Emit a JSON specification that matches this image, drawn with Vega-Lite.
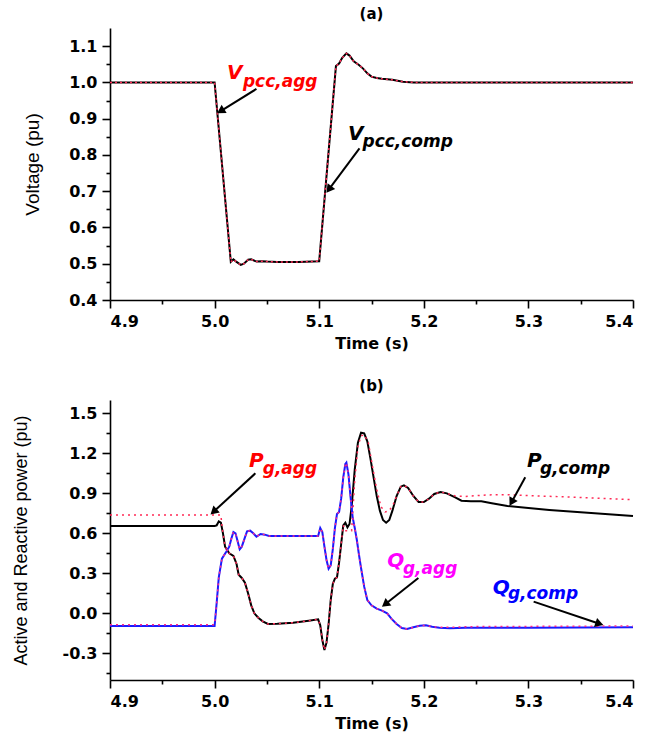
{
  "$schema": "https://vega.github.io/schema/vega-lite/v6.json",
  "padding": {"left": 12, "top": 7, "right": 5, "bottom": 5},
  "spacing": 28,
  "resolve": {"scale": {"color": "independent"}},
  "config": {
    "view": {"stroke": null},
    "axis": {"domainColor": "#000", "domainWidth": 1.6, "tickColor": "#000", "tickWidth": 1.6, "labelColor": "#000", "titleColor": "#000", "grid": false, "labelFont": "DejaVu Sans", "labelFontWeight": "bold", "labelFontSize": 16, "titleFont": "Liberation Sans", "titleFontSize": 19, "titleFontWeight": "normal"},
    "title": {"font": "DejaVu Sans", "fontSize": 15, "fontWeight": "bold", "color": "#000", "offset": 6}
  },
  "datasets": {
    "va": [
      {"t": 4.9, "v": 1.0, "s": "comp"}, {"t": 5.0, "v": 1.0, "s": "comp"}, {"t": 5.0155, "v": 0.505, "s": "comp"}, {"t": 5.018, "v": 0.512, "s": "comp"}, {"t": 5.021, "v": 0.505, "s": "comp"}, {"t": 5.025, "v": 0.497, "s": "comp"}, {"t": 5.028, "v": 0.5, "s": "comp"}, {"t": 5.032, "v": 0.511, "s": "comp"}, {"t": 5.035, "v": 0.512, "s": "comp"}, {"t": 5.04, "v": 0.506, "s": "comp"}, {"t": 5.045, "v": 0.507, "s": "comp"}, {"t": 5.05, "v": 0.506, "s": "comp"}, {"t": 5.06, "v": 0.505, "s": "comp"}, {"t": 5.08, "v": 0.505, "s": "comp"}, {"t": 5.1, "v": 0.507, "s": "comp"}, {"t": 5.116, "v": 1.045, "s": "comp"}, {"t": 5.119, "v": 1.052, "s": "comp"}, {"t": 5.122, "v": 1.068, "s": "comp"}, {"t": 5.126, "v": 1.08, "s": "comp"}, {"t": 5.129, "v": 1.074, "s": "comp"}, {"t": 5.133, "v": 1.058, "s": "comp"}, {"t": 5.138, "v": 1.048, "s": "comp"}, {"t": 5.142, "v": 1.038, "s": "comp"}, {"t": 5.146, "v": 1.025, "s": "comp"}, {"t": 5.15, "v": 1.016, "s": "comp"}, {"t": 5.155, "v": 1.012, "s": "comp"}, {"t": 5.16, "v": 1.01, "s": "comp"}, {"t": 5.17, "v": 1.007, "s": "comp"}, {"t": 5.18, "v": 1.002, "s": "comp"}, {"t": 5.19, "v": 1.0, "s": "comp"}, {"t": 5.4, "v": 1.0, "s": "comp"},
      {"t": 4.9, "v": 1.0, "s": "agg"}, {"t": 5.0, "v": 1.0, "s": "agg"}, {"t": 5.0155, "v": 0.505, "s": "agg"}, {"t": 5.018, "v": 0.512, "s": "agg"}, {"t": 5.021, "v": 0.505, "s": "agg"}, {"t": 5.025, "v": 0.497, "s": "agg"}, {"t": 5.028, "v": 0.5, "s": "agg"}, {"t": 5.032, "v": 0.511, "s": "agg"}, {"t": 5.035, "v": 0.512, "s": "agg"}, {"t": 5.04, "v": 0.506, "s": "agg"}, {"t": 5.045, "v": 0.507, "s": "agg"}, {"t": 5.05, "v": 0.506, "s": "agg"}, {"t": 5.06, "v": 0.505, "s": "agg"}, {"t": 5.08, "v": 0.505, "s": "agg"}, {"t": 5.1, "v": 0.507, "s": "agg"}, {"t": 5.116, "v": 1.045, "s": "agg"}, {"t": 5.119, "v": 1.052, "s": "agg"}, {"t": 5.122, "v": 1.068, "s": "agg"}, {"t": 5.126, "v": 1.08, "s": "agg"}, {"t": 5.129, "v": 1.074, "s": "agg"}, {"t": 5.133, "v": 1.058, "s": "agg"}, {"t": 5.138, "v": 1.048, "s": "agg"}, {"t": 5.142, "v": 1.038, "s": "agg"}, {"t": 5.146, "v": 1.025, "s": "agg"}, {"t": 5.15, "v": 1.016, "s": "agg"}, {"t": 5.155, "v": 1.012, "s": "agg"}, {"t": 5.16, "v": 1.01, "s": "agg"}, {"t": 5.17, "v": 1.007, "s": "agg"}, {"t": 5.18, "v": 1.002, "s": "agg"}, {"t": 5.19, "v": 1.0, "s": "agg"}, {"t": 5.4, "v": 1.0, "s": "agg"}
    ],
    "pb": [
      {"t": 4.9, "p": 0.655, "s": "Pcomp"}, {"t": 5.0, "p": 0.655, "s": "Pcomp"}, {"t": 5.002, "p": 0.66, "s": "Pcomp"}, {"t": 5.004, "p": 0.69, "s": "Pcomp"}, {"t": 5.006, "p": 0.68, "s": "Pcomp"}, {"t": 5.008, "p": 0.6, "s": "Pcomp"}, {"t": 5.01, "p": 0.5, "s": "Pcomp"}, {"t": 5.014, "p": 0.45, "s": "Pcomp"}, {"t": 5.018, "p": 0.43, "s": "Pcomp"}, {"t": 5.021, "p": 0.37, "s": "Pcomp"}, {"t": 5.023, "p": 0.29, "s": "Pcomp"}, {"t": 5.026, "p": 0.265, "s": "Pcomp"}, {"t": 5.029, "p": 0.23, "s": "Pcomp"}, {"t": 5.032, "p": 0.15, "s": "Pcomp"}, {"t": 5.035, "p": 0.06, "s": "Pcomp"}, {"t": 5.038, "p": 0.0, "s": "Pcomp"}, {"t": 5.042, "p": -0.035, "s": "Pcomp"}, {"t": 5.046, "p": -0.06, "s": "Pcomp"}, {"t": 5.051, "p": -0.08, "s": "Pcomp"}, {"t": 5.06, "p": -0.078, "s": "Pcomp"}, {"t": 5.075, "p": -0.07, "s": "Pcomp"}, {"t": 5.09, "p": -0.055, "s": "Pcomp"}, {"t": 5.099, "p": -0.045, "s": "Pcomp"}, {"t": 5.101, "p": -0.09, "s": "Pcomp"}, {"t": 5.103, "p": -0.2, "s": "Pcomp"}, {"t": 5.105, "p": -0.275, "s": "Pcomp"}, {"t": 5.107, "p": -0.22, "s": "Pcomp"}, {"t": 5.109, "p": -0.08, "s": "Pcomp"}, {"t": 5.111, "p": 0.1, "s": "Pcomp"}, {"t": 5.113, "p": 0.22, "s": "Pcomp"}, {"t": 5.115, "p": 0.26, "s": "Pcomp"}, {"t": 5.117, "p": 0.27, "s": "Pcomp"}, {"t": 5.119, "p": 0.38, "s": "Pcomp"}, {"t": 5.121, "p": 0.52, "s": "Pcomp"}, {"t": 5.123, "p": 0.66, "s": "Pcomp"}, {"t": 5.125, "p": 0.68, "s": "Pcomp"}, {"t": 5.127, "p": 0.645, "s": "Pcomp"}, {"t": 5.129, "p": 0.67, "s": "Pcomp"}, {"t": 5.131, "p": 0.8, "s": "Pcomp"}, {"t": 5.134, "p": 1.08, "s": "Pcomp"}, {"t": 5.137, "p": 1.28, "s": "Pcomp"}, {"t": 5.14, "p": 1.355, "s": "Pcomp"}, {"t": 5.143, "p": 1.35, "s": "Pcomp"}, {"t": 5.146, "p": 1.29, "s": "Pcomp"}, {"t": 5.149, "p": 1.16, "s": "Pcomp"}, {"t": 5.152, "p": 1.02, "s": "Pcomp"}, {"t": 5.155, "p": 0.88, "s": "Pcomp"}, {"t": 5.158, "p": 0.77, "s": "Pcomp"}, {"t": 5.161, "p": 0.7, "s": "Pcomp"}, {"t": 5.164, "p": 0.68, "s": "Pcomp"}, {"t": 5.167, "p": 0.7, "s": "Pcomp"}, {"t": 5.17, "p": 0.77, "s": "Pcomp"}, {"t": 5.174, "p": 0.88, "s": "Pcomp"}, {"t": 5.178, "p": 0.95, "s": "Pcomp"}, {"t": 5.181, "p": 0.96, "s": "Pcomp"}, {"t": 5.185, "p": 0.94, "s": "Pcomp"}, {"t": 5.19, "p": 0.88, "s": "Pcomp"}, {"t": 5.195, "p": 0.835, "s": "Pcomp"}, {"t": 5.2, "p": 0.835, "s": "Pcomp"}, {"t": 5.205, "p": 0.86, "s": "Pcomp"}, {"t": 5.21, "p": 0.895, "s": "Pcomp"}, {"t": 5.216, "p": 0.91, "s": "Pcomp"}, {"t": 5.222, "p": 0.9, "s": "Pcomp"}, {"t": 5.23, "p": 0.87, "s": "Pcomp"}, {"t": 5.236, "p": 0.845, "s": "Pcomp"}, {"t": 5.245, "p": 0.84, "s": "Pcomp"}, {"t": 5.255, "p": 0.84, "s": "Pcomp"}, {"t": 5.265, "p": 0.825, "s": "Pcomp"}, {"t": 5.28, "p": 0.805, "s": "Pcomp"}, {"t": 5.3, "p": 0.79, "s": "Pcomp"}, {"t": 5.32, "p": 0.775, "s": "Pcomp"}, {"t": 5.34, "p": 0.763, "s": "Pcomp"}, {"t": 5.36, "p": 0.752, "s": "Pcomp"}, {"t": 5.38, "p": 0.742, "s": "Pcomp"}, {"t": 5.4, "p": 0.73, "s": "Pcomp"},
      {"t": 4.9, "p": 0.738, "s": "Pagg"}, {"t": 5.006, "p": 0.738, "s": "Pagg"}, {"t": 5.007, "p": 0.66, "s": "Pagg"}, {"t": 5.008, "p": 0.6, "s": "Pagg"}, {"t": 5.01, "p": 0.5, "s": "Pagg"}, {"t": 5.014, "p": 0.45, "s": "Pagg"}, {"t": 5.018, "p": 0.43, "s": "Pagg"}, {"t": 5.021, "p": 0.37, "s": "Pagg"}, {"t": 5.023, "p": 0.29, "s": "Pagg"}, {"t": 5.026, "p": 0.265, "s": "Pagg"}, {"t": 5.029, "p": 0.23, "s": "Pagg"}, {"t": 5.032, "p": 0.15, "s": "Pagg"}, {"t": 5.035, "p": 0.06, "s": "Pagg"}, {"t": 5.038, "p": 0.0, "s": "Pagg"}, {"t": 5.042, "p": -0.035, "s": "Pagg"}, {"t": 5.046, "p": -0.06, "s": "Pagg"}, {"t": 5.051, "p": -0.08, "s": "Pagg"}, {"t": 5.06, "p": -0.078, "s": "Pagg"}, {"t": 5.075, "p": -0.07, "s": "Pagg"}, {"t": 5.09, "p": -0.055, "s": "Pagg"}, {"t": 5.099, "p": -0.045, "s": "Pagg"}, {"t": 5.101, "p": -0.09, "s": "Pagg"}, {"t": 5.103, "p": -0.2, "s": "Pagg"}, {"t": 5.105, "p": -0.275, "s": "Pagg"}, {"t": 5.107, "p": -0.22, "s": "Pagg"}, {"t": 5.109, "p": -0.08, "s": "Pagg"}, {"t": 5.111, "p": 0.1, "s": "Pagg"}, {"t": 5.113, "p": 0.22, "s": "Pagg"}, {"t": 5.115, "p": 0.26, "s": "Pagg"}, {"t": 5.117, "p": 0.27, "s": "Pagg"}, {"t": 5.119, "p": 0.38, "s": "Pagg"}, {"t": 5.121, "p": 0.52, "s": "Pagg"}, {"t": 5.123, "p": 0.66, "s": "Pagg"}, {"t": 5.1245, "p": 0.62, "s": "Pagg"}, {"t": 5.131, "p": 0.62, "s": "Pagg"}, {"t": 5.134, "p": 1.0, "s": "Pagg"}, {"t": 5.137, "p": 1.25, "s": "Pagg"}, {"t": 5.14, "p": 1.33, "s": "Pagg"}, {"t": 5.143, "p": 1.34, "s": "Pagg"}, {"t": 5.147, "p": 1.28, "s": "Pagg"}, {"t": 5.151, "p": 1.1, "s": "Pagg"}, {"t": 5.155, "p": 0.93, "s": "Pagg"}, {"t": 5.159, "p": 0.8, "s": "Pagg"}, {"t": 5.163, "p": 0.76, "s": "Pagg"}, {"t": 5.167, "p": 0.77, "s": "Pagg"}, {"t": 5.171, "p": 0.82, "s": "Pagg"}, {"t": 5.174, "p": 0.88, "s": "Pagg"}, {"t": 5.178, "p": 0.95, "s": "Pagg"}, {"t": 5.181, "p": 0.96, "s": "Pagg"}, {"t": 5.185, "p": 0.94, "s": "Pagg"}, {"t": 5.19, "p": 0.88, "s": "Pagg"}, {"t": 5.195, "p": 0.835, "s": "Pagg"}, {"t": 5.2, "p": 0.835, "s": "Pagg"}, {"t": 5.205, "p": 0.86, "s": "Pagg"}, {"t": 5.21, "p": 0.895, "s": "Pagg"}, {"t": 5.216, "p": 0.91, "s": "Pagg"}, {"t": 5.222, "p": 0.9, "s": "Pagg"}, {"t": 5.23, "p": 0.88, "s": "Pagg"}, {"t": 5.24, "p": 0.877, "s": "Pagg"}, {"t": 5.26, "p": 0.888, "s": "Pagg"}, {"t": 5.28, "p": 0.89, "s": "Pagg"}, {"t": 5.3, "p": 0.883, "s": "Pagg"}, {"t": 5.34, "p": 0.872, "s": "Pagg"}, {"t": 5.37, "p": 0.862, "s": "Pagg"}, {"t": 5.4, "p": 0.852, "s": "Pagg"},
      {"t": 4.9, "p": -0.095, "s": "Qcomp"}, {"t": 5.0, "p": -0.095, "s": "Qcomp"}, {"t": 5.002, "p": 0.08, "s": "Qcomp"}, {"t": 5.004, "p": 0.27, "s": "Qcomp"}, {"t": 5.007, "p": 0.41, "s": "Qcomp"}, {"t": 5.011, "p": 0.46, "s": "Qcomp"}, {"t": 5.014, "p": 0.5, "s": "Qcomp"}, {"t": 5.016, "p": 0.56, "s": "Qcomp"}, {"t": 5.018, "p": 0.61, "s": "Qcomp"}, {"t": 5.02, "p": 0.6, "s": "Qcomp"}, {"t": 5.022, "p": 0.54, "s": "Qcomp"}, {"t": 5.024, "p": 0.48, "s": "Qcomp"}, {"t": 5.026, "p": 0.5, "s": "Qcomp"}, {"t": 5.029, "p": 0.57, "s": "Qcomp"}, {"t": 5.031, "p": 0.615, "s": "Qcomp"}, {"t": 5.034, "p": 0.62, "s": "Qcomp"}, {"t": 5.037, "p": 0.6, "s": "Qcomp"}, {"t": 5.04, "p": 0.575, "s": "Qcomp"}, {"t": 5.044, "p": 0.595, "s": "Qcomp"}, {"t": 5.048, "p": 0.59, "s": "Qcomp"}, {"t": 5.052, "p": 0.58, "s": "Qcomp"}, {"t": 5.06, "p": 0.58, "s": "Qcomp"}, {"t": 5.099, "p": 0.58, "s": "Qcomp"}, {"t": 5.101, "p": 0.64, "s": "Qcomp"}, {"t": 5.103, "p": 0.61, "s": "Qcomp"}, {"t": 5.105, "p": 0.5, "s": "Qcomp"}, {"t": 5.107, "p": 0.4, "s": "Qcomp"}, {"t": 5.109, "p": 0.335, "s": "Qcomp"}, {"t": 5.111, "p": 0.36, "s": "Qcomp"}, {"t": 5.113, "p": 0.48, "s": "Qcomp"}, {"t": 5.115, "p": 0.64, "s": "Qcomp"}, {"t": 5.117, "p": 0.745, "s": "Qcomp"}, {"t": 5.119, "p": 0.76, "s": "Qcomp"}, {"t": 5.121, "p": 0.86, "s": "Qcomp"}, {"t": 5.123, "p": 1.02, "s": "Qcomp"}, {"t": 5.125, "p": 1.12, "s": "Qcomp"}, {"t": 5.126, "p": 1.13, "s": "Qcomp"}, {"t": 5.128, "p": 1.04, "s": "Qcomp"}, {"t": 5.13, "p": 0.87, "s": "Qcomp"}, {"t": 5.132, "p": 0.72, "s": "Qcomp"}, {"t": 5.134, "p": 0.64, "s": "Qcomp"}, {"t": 5.136, "p": 0.55, "s": "Qcomp"}, {"t": 5.138, "p": 0.44, "s": "Qcomp"}, {"t": 5.14, "p": 0.34, "s": "Qcomp"}, {"t": 5.143, "p": 0.2, "s": "Qcomp"}, {"t": 5.146, "p": 0.1, "s": "Qcomp"}, {"t": 5.15, "p": 0.06, "s": "Qcomp"}, {"t": 5.155, "p": 0.035, "s": "Qcomp"}, {"t": 5.16, "p": 0.02, "s": "Qcomp"}, {"t": 5.165, "p": 0.0, "s": "Qcomp"}, {"t": 5.169, "p": -0.04, "s": "Qcomp"}, {"t": 5.174, "p": -0.08, "s": "Qcomp"}, {"t": 5.179, "p": -0.11, "s": "Qcomp"}, {"t": 5.184, "p": -0.118, "s": "Qcomp"}, {"t": 5.19, "p": -0.105, "s": "Qcomp"}, {"t": 5.196, "p": -0.093, "s": "Qcomp"}, {"t": 5.202, "p": -0.09, "s": "Qcomp"}, {"t": 5.208, "p": -0.1, "s": "Qcomp"}, {"t": 5.215, "p": -0.108, "s": "Qcomp"}, {"t": 5.225, "p": -0.112, "s": "Qcomp"}, {"t": 5.24, "p": -0.108, "s": "Qcomp"}, {"t": 5.3, "p": -0.108, "s": "Qcomp"}, {"t": 5.4, "p": -0.105, "s": "Qcomp"},
      {"t": 4.9, "p": -0.085, "s": "Qagg"}, {"t": 5.0, "p": -0.085, "s": "Qagg"}, {"t": 5.002, "p": 0.08, "s": "Qagg"}, {"t": 5.004, "p": 0.27, "s": "Qagg"}, {"t": 5.007, "p": 0.41, "s": "Qagg"}, {"t": 5.011, "p": 0.46, "s": "Qagg"}, {"t": 5.014, "p": 0.5, "s": "Qagg"}, {"t": 5.016, "p": 0.56, "s": "Qagg"}, {"t": 5.018, "p": 0.61, "s": "Qagg"}, {"t": 5.02, "p": 0.6, "s": "Qagg"}, {"t": 5.022, "p": 0.54, "s": "Qagg"}, {"t": 5.024, "p": 0.48, "s": "Qagg"}, {"t": 5.026, "p": 0.5, "s": "Qagg"}, {"t": 5.029, "p": 0.57, "s": "Qagg"}, {"t": 5.031, "p": 0.615, "s": "Qagg"}, {"t": 5.034, "p": 0.62, "s": "Qagg"}, {"t": 5.037, "p": 0.6, "s": "Qagg"}, {"t": 5.04, "p": 0.575, "s": "Qagg"}, {"t": 5.044, "p": 0.595, "s": "Qagg"}, {"t": 5.048, "p": 0.59, "s": "Qagg"}, {"t": 5.052, "p": 0.58, "s": "Qagg"}, {"t": 5.06, "p": 0.58, "s": "Qagg"}, {"t": 5.099, "p": 0.58, "s": "Qagg"}, {"t": 5.101, "p": 0.64, "s": "Qagg"}, {"t": 5.103, "p": 0.61, "s": "Qagg"}, {"t": 5.105, "p": 0.5, "s": "Qagg"}, {"t": 5.107, "p": 0.4, "s": "Qagg"}, {"t": 5.109, "p": 0.335, "s": "Qagg"}, {"t": 5.111, "p": 0.36, "s": "Qagg"}, {"t": 5.113, "p": 0.48, "s": "Qagg"}, {"t": 5.115, "p": 0.64, "s": "Qagg"}, {"t": 5.117, "p": 0.745, "s": "Qagg"}, {"t": 5.119, "p": 0.76, "s": "Qagg"}, {"t": 5.121, "p": 0.86, "s": "Qagg"}, {"t": 5.123, "p": 1.02, "s": "Qagg"}, {"t": 5.125, "p": 1.12, "s": "Qagg"}, {"t": 5.126, "p": 1.13, "s": "Qagg"}, {"t": 5.128, "p": 1.04, "s": "Qagg"}, {"t": 5.13, "p": 0.87, "s": "Qagg"}, {"t": 5.132, "p": 0.72, "s": "Qagg"}, {"t": 5.134, "p": 0.64, "s": "Qagg"}, {"t": 5.136, "p": 0.55, "s": "Qagg"}, {"t": 5.138, "p": 0.44, "s": "Qagg"}, {"t": 5.14, "p": 0.34, "s": "Qagg"}, {"t": 5.143, "p": 0.2, "s": "Qagg"}, {"t": 5.146, "p": 0.1, "s": "Qagg"}, {"t": 5.15, "p": 0.06, "s": "Qagg"}, {"t": 5.155, "p": 0.035, "s": "Qagg"}, {"t": 5.16, "p": 0.02, "s": "Qagg"}, {"t": 5.165, "p": 0.0, "s": "Qagg"}, {"t": 5.169, "p": -0.04, "s": "Qagg"}, {"t": 5.174, "p": -0.08, "s": "Qagg"}, {"t": 5.179, "p": -0.11, "s": "Qagg"}, {"t": 5.184, "p": -0.118, "s": "Qagg"}, {"t": 5.19, "p": -0.105, "s": "Qagg"}, {"t": 5.196, "p": -0.093, "s": "Qagg"}, {"t": 5.202, "p": -0.09, "s": "Qagg"}, {"t": 5.208, "p": -0.1, "s": "Qagg"}, {"t": 5.215, "p": -0.105, "s": "Qagg"}, {"t": 5.225, "p": -0.105, "s": "Qagg"}, {"t": 5.24, "p": -0.1, "s": "Qagg"}, {"t": 5.3, "p": -0.098, "s": "Qagg"}, {"t": 5.4, "p": -0.095, "s": "Qagg"}
    ],
    "labels_a": [
      {"t": 5.0118, "y": 1.01, "text": "V", "role": "main", "s": "agg"},
      {"t": 5.0271, "y": 0.987, "text": "pcc,agg", "role": "sub", "s": "agg"},
      {"t": 5.1275, "y": 0.84, "text": "V", "role": "main", "s": "comp"},
      {"t": 5.1414, "y": 0.822, "text": "pcc,comp", "role": "sub", "s": "comp"}
    ],
    "labels_b": [
      {"t": 5.033, "y": 1.095, "text": "P", "role": "main", "s": "Pagg"},
      {"t": 5.046, "y": 1.045, "text": "g,agg", "role": "sub", "s": "Pagg"},
      {"t": 5.2986, "y": 1.095, "text": "P", "role": "main", "s": "Pcomp"},
      {"t": 5.311, "y": 1.045, "text": "g,comp", "role": "sub", "s": "Pcomp"},
      {"t": 5.165, "y": 0.345, "text": "Q", "role": "main", "s": "Qagg"},
      {"t": 5.18, "y": 0.295, "text": "g,agg", "role": "sub", "s": "Qagg"},
      {"t": 5.2658, "y": 0.145, "text": "Q", "role": "main", "s": "Qcomp"},
      {"t": 5.2804, "y": 0.107, "text": "g,comp", "role": "sub", "s": "Qcomp"}
    ],
    "arrows_a": [
      {"id": "a1", "x": 5.04, "y": 0.982, "hx": 5.0058, "hy": 0.921},
      {"id": "a2", "x": 5.1385, "y": 0.818, "hx": 5.1093, "hy": 0.705}
    ],
    "arrows_b": [
      {"id": "b1", "x": 5.039, "y": 1.05, "hx": 4.999, "hy": 0.762},
      {"id": "b2", "x": 5.297, "y": 1.02, "hx": 5.2839, "hy": 0.833},
      {"id": "b3", "x": 5.1948, "y": 0.265, "hx": 5.1631, "hy": 0.068},
      {"id": "b4", "x": 5.305, "y": 0.088, "hx": 5.3679, "hy": -0.078}
    ]
  },
  "vconcat": [
    {
      "width": 523,
      "height": 272,
      "title": {"text": "(a)"},
      "resolve": {"axis": {"x": "independent", "y": "independent"}},
      "layer": [
        {
          "data": {"name": "va"},
          "transform": [{"filter": "datum.s === 'comp'"}],
          "mark": {"type": "line", "color": "#000", "strokeWidth": 2},
          "encoding": {
            "x": {"field": "t", "type": "quantitative", "scale": {"domain": [4.9, 5.4], "nice": false, "zero": false},
                  "axis": {"orient": "bottom", "values": [4.9, 5.0, 5.1, 5.2, 5.3, 5.4], "format": ".1f", "tickSize": 8, "labelPadding": 5, "title": "Time (s)", "titleFont": "DejaVu Sans", "titleFontWeight": "bold", "titleFontSize": 16, "titlePadding": 6}},
            "y": {"field": "v", "type": "quantitative", "scale": {"domain": [0.4, 1.15], "nice": false, "zero": false},
                  "axis": {"orient": "left", "values": [0.4, 0.5, 0.6, 0.7, 0.8, 0.9, 1.0, 1.1], "format": ".1f", "tickSize": 8, "labelPadding": 5, "title": "Voltage (pu)", "titlePadding": 26}}
          }
        },
        {
          "data": {"name": "va"},
          "transform": [{"filter": "datum.s === 'agg'"}],
          "mark": {"type": "line", "color": "#ff2a55", "strokeWidth": 1.5, "strokeDash": [2, 3]},
          "encoding": {
            "x": {"field": "t", "type": "quantitative",
                  "axis": {"orient": "bottom", "values": [4.95, 5.05, 5.15, 5.25, 5.35], "labels": false, "domain": false, "tickSize": 4, "title": null}},
            "y": {"field": "v", "type": "quantitative",
                  "axis": {"orient": "left", "values": [0.45, 0.55, 0.65, 0.75, 0.85, 0.95, 1.05], "labels": false, "domain": false, "tickSize": 4, "title": null}}
          }
        },
        {
          "data": {"name": "arrows_a"},
          "mark": {"type": "rule", "color": "#000", "strokeWidth": 2},
          "encoding": {
            "x": {"field": "x", "type": "quantitative", "axis": null},
            "y": {"field": "y", "type": "quantitative", "axis": null},
            "x2": {"field": "hx"},
            "y2": {"field": "hy"}
          }
        },
        {
          "data": {"name": "arrows_a"},
          "transform": [{"filter": "datum.id === 'a1'"}],
          "mark": {"type": "point", "shape": "triangle-up", "filled": true, "color": "#000", "opacity": 1, "size": 90, "angle": -122},
          "encoding": {"x": {"field": "hx", "type": "quantitative", "axis": null}, "y": {"field": "hy", "type": "quantitative", "axis": null}}
        },
        {
          "data": {"name": "arrows_a"},
          "transform": [{"filter": "datum.id === 'a2'"}],
          "mark": {"type": "point", "shape": "triangle-up", "filled": true, "color": "#000", "opacity": 1, "size": 90, "angle": -143},
          "encoding": {"x": {"field": "hx", "type": "quantitative", "axis": null}, "y": {"field": "hy", "type": "quantitative", "axis": null}}
        },
        {
          "data": {"name": "labels_a"},
          "transform": [{"filter": "datum.role === 'main'"}],
          "mark": {"type": "text", "align": "left", "baseline": "alphabetic", "font": "DejaVu Sans", "fontWeight": "bold", "fontStyle": "italic", "fontSize": 20},
          "encoding": {
            "x": {"field": "t", "type": "quantitative", "axis": null},
            "y": {"field": "y", "type": "quantitative", "axis": null},
            "text": {"field": "text"},
            "color": {"field": "s", "type": "nominal", "scale": {"domain": ["agg", "comp"], "range": ["#ff0000", "#000000"]}, "legend": null}
          }
        },
        {
          "data": {"name": "labels_a"},
          "transform": [{"filter": "datum.role === 'sub'"}],
          "mark": {"type": "text", "align": "left", "baseline": "alphabetic", "font": "DejaVu Sans", "fontWeight": "bold", "fontStyle": "italic", "fontSize": 17},
          "encoding": {
            "x": {"field": "t", "type": "quantitative", "axis": null},
            "y": {"field": "y", "type": "quantitative", "axis": null},
            "text": {"field": "text"},
            "color": {"field": "s", "type": "nominal", "scale": {"domain": ["agg", "comp"], "range": ["#ff0000", "#000000"]}, "legend": null}
          }
        }
      ]
    },
    {
      "width": 523,
      "height": 280,
      "title": {"text": "(b)"},
      "resolve": {"axis": {"x": "independent", "y": "independent"}},
      "layer": [
        {
          "data": {"name": "pb"},
          "transform": [{"filter": "datum.s === 'Pcomp'"}],
          "mark": {"type": "line", "color": "#000", "strokeWidth": 2},
          "encoding": {
            "x": {"field": "t", "type": "quantitative", "scale": {"domain": [4.9, 5.4], "nice": false, "zero": false},
                  "axis": {"orient": "bottom", "values": [4.9, 5.0, 5.1, 5.2, 5.3, 5.4], "format": ".1f", "tickSize": 8, "labelPadding": 5, "title": "Time (s)", "titleFont": "DejaVu Sans", "titleFontWeight": "bold", "titleFontSize": 16, "titlePadding": 6}},
            "y": {"field": "p", "type": "quantitative", "scale": {"domain": [-0.5, 1.6], "nice": false, "zero": false},
                  "axis": {"orient": "left", "values": [-0.3, 0.0, 0.3, 0.6, 0.9, 1.2, 1.5], "labelExpr": "datum.value < 0 ? '-' + format(-datum.value, '.1f') : format(datum.value, '.1f')", "tickSize": 8, "labelPadding": 5, "title": "Active and Reactive power (pu)", "titleFontSize": 18, "titlePadding": 32}}
          }
        },
        {
          "data": {"name": "pb"},
          "transform": [{"filter": "datum.s === 'Pagg'"}],
          "mark": {"type": "line", "color": "#ff2a55", "strokeWidth": 1.5, "strokeDash": [2, 4]},
          "encoding": {
            "x": {"field": "t", "type": "quantitative",
                  "axis": {"orient": "bottom", "values": [4.95, 5.05, 5.15, 5.25, 5.35], "labels": false, "domain": false, "tickSize": 4, "title": null}},
            "y": {"field": "p", "type": "quantitative",
                  "axis": {"orient": "left", "values": [-0.45, -0.15, 0.15, 0.45, 0.75, 1.05, 1.35], "labels": false, "domain": false, "tickSize": 4, "title": null}}
          }
        },
        {
          "data": {"name": "pb"},
          "transform": [{"filter": "datum.s === 'Qcomp'"}],
          "mark": {"type": "line", "color": "#1a1aff", "strokeWidth": 2},
          "encoding": {
            "x": {"field": "t", "type": "quantitative", "axis": null},
            "y": {"field": "p", "type": "quantitative", "axis": null}
          }
        },
        {
          "data": {"name": "pb"},
          "transform": [{"filter": "datum.s === 'Qagg'"}],
          "mark": {"type": "line", "color": "#ff2a8a", "strokeWidth": 1.5, "strokeDash": [2, 4]},
          "encoding": {
            "x": {"field": "t", "type": "quantitative", "axis": null},
            "y": {"field": "p", "type": "quantitative", "axis": null}
          }
        },
        {
          "data": {"name": "arrows_b"},
          "mark": {"type": "rule", "color": "#000", "strokeWidth": 2},
          "encoding": {
            "x": {"field": "x", "type": "quantitative", "axis": null},
            "y": {"field": "y", "type": "quantitative", "axis": null},
            "x2": {"field": "hx"},
            "y2": {"field": "hy"}
          }
        },
        {
          "data": {"name": "arrows_b"},
          "transform": [{"filter": "datum.id === 'b1'"}],
          "mark": {"type": "point", "shape": "triangle-up", "filled": true, "color": "#000", "opacity": 1, "size": 90, "angle": -132},
          "encoding": {"x": {"field": "hx", "type": "quantitative", "axis": null}, "y": {"field": "hy", "type": "quantitative", "axis": null}}
        },
        {
          "data": {"name": "arrows_b"},
          "transform": [{"filter": "datum.id === 'b2'"}],
          "mark": {"type": "point", "shape": "triangle-up", "filled": true, "color": "#000", "opacity": 1, "size": 90, "angle": -151},
          "encoding": {"x": {"field": "hx", "type": "quantitative", "axis": null}, "y": {"field": "hy", "type": "quantitative", "axis": null}}
        },
        {
          "data": {"name": "arrows_b"},
          "transform": [{"filter": "datum.id === 'b3'"}],
          "mark": {"type": "point", "shape": "triangle-up", "filled": true, "color": "#000", "opacity": 1, "size": 90, "angle": -128},
          "encoding": {"x": {"field": "hx", "type": "quantitative", "axis": null}, "y": {"field": "hy", "type": "quantitative", "axis": null}}
        },
        {
          "data": {"name": "arrows_b"},
          "transform": [{"filter": "datum.id === 'b4'"}],
          "mark": {"type": "point", "shape": "triangle-up", "filled": true, "color": "#000", "opacity": 1, "size": 90, "angle": 109},
          "encoding": {"x": {"field": "hx", "type": "quantitative", "axis": null}, "y": {"field": "hy", "type": "quantitative", "axis": null}}
        },
        {
          "data": {"name": "labels_b"},
          "transform": [{"filter": "datum.role === 'main'"}],
          "mark": {"type": "text", "align": "left", "baseline": "alphabetic", "font": "DejaVu Sans", "fontWeight": "bold", "fontStyle": "italic", "fontSize": 20},
          "encoding": {
            "x": {"field": "t", "type": "quantitative", "axis": null},
            "y": {"field": "y", "type": "quantitative", "axis": null},
            "text": {"field": "text"},
            "color": {"field": "s", "type": "nominal", "scale": {"domain": ["Pagg", "Pcomp", "Qagg", "Qcomp"], "range": ["#ff0000", "#000000", "#ff00ff", "#0000ff"]}, "legend": null}
          }
        },
        {
          "data": {"name": "labels_b"},
          "transform": [{"filter": "datum.role === 'sub'"}],
          "mark": {"type": "text", "align": "left", "baseline": "alphabetic", "font": "DejaVu Sans", "fontWeight": "bold", "fontStyle": "italic", "fontSize": 17},
          "encoding": {
            "x": {"field": "t", "type": "quantitative", "axis": null},
            "y": {"field": "y", "type": "quantitative", "axis": null},
            "text": {"field": "text"},
            "color": {"field": "s", "type": "nominal", "scale": {"domain": ["Pagg", "Pcomp", "Qagg", "Qcomp"], "range": ["#ff0000", "#000000", "#ff00ff", "#0000ff"]}, "legend": null}
          }
        }
      ]
    }
  ]
}
